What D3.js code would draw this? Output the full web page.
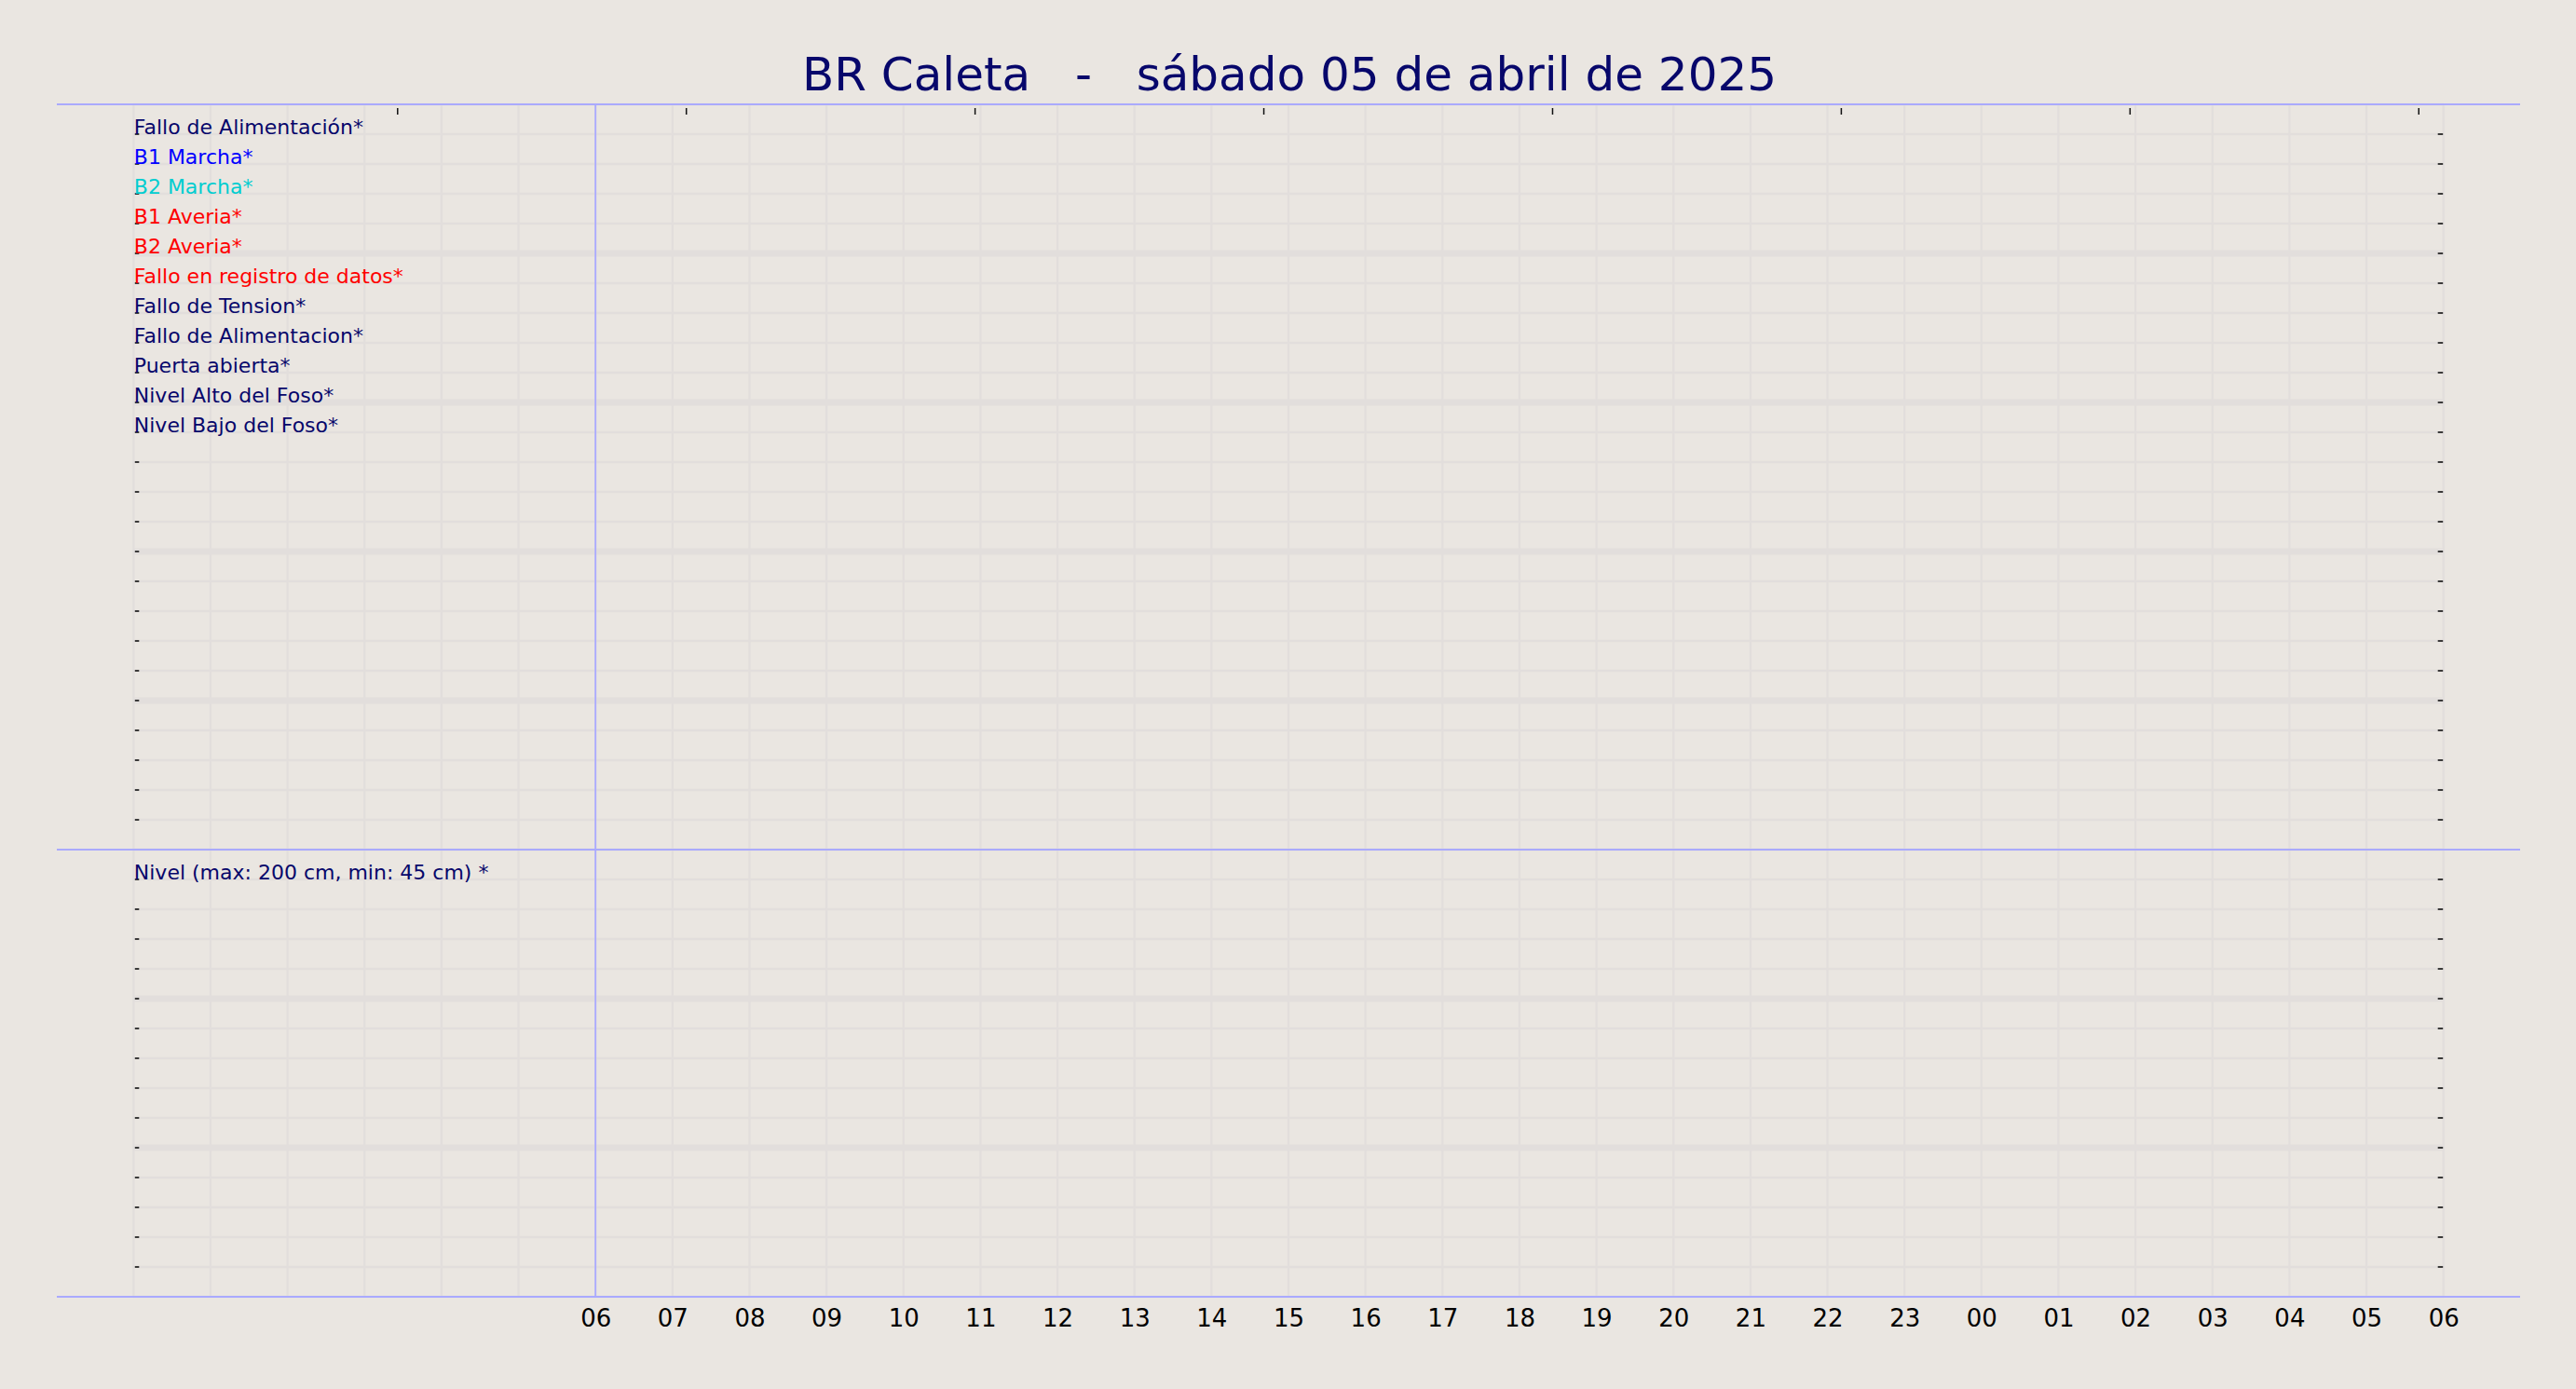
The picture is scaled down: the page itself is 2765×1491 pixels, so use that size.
<!DOCTYPE html>
<html>
<head>
<meta charset="utf-8">
<script src="https://cdn.jsdelivr.net/npm/d3@7"></script>
<style>
  body { margin: 0; background: #eae6e1; }
  svg text { font-family: "DejaVu Sans", sans-serif; }
</style>
</head>
<body>
<div id="chart"></div>
<script>
var title = "BR Caleta   -   sábado 05 de abril de 2025";

// signal rows of the upper panel
var signalLabels = ["Fallo de Alimentación*", "B1 Marcha*", "B2 Marcha*", "B1 Averia*",
                    "B2 Averia*", "Fallo en registro de datos*", "Fallo de Tension*",
                    "Fallo de Alimentacion*", "Puerta abierta*", "Nivel Alto del Foso*",
                    "Nivel Bajo del Foso*"];
var signalColors = ["#07076b", "#0000ff", "#00cdd0", "#ff0000", "#ff0000", "#ff0000",
                    "#07076b", "#07076b", "#07076b", "#07076b", "#07076b"];

// level panel
var levelLabels = ["Nivel (max: 200 cm, min: 45 cm) *"];
var levelColors = ["#07076b"];

var upperRows = 25;
var lowerRows = 15;

// hours from 00h of the day to 06h of the next
var hourDomain = [0, 30];
var hourValues = [6, 7, 8, 9, 10, 11, 12, 13, 14, 15, 16, 17, 18, 19, 20, 21, 22, 23,
                  24, 25, 26, 27, 28, 29, 30];
var hourLabels = ["06", "07", "08", "09", "10", "11", "12", "13", "14", "15", "16", "17",
                  "18", "19", "20", "21", "22", "23", "00", "01", "02", "03", "04", "05", "06"];
var topTickHours = [3.43, 7.18, 10.93, 14.68, 18.43, 22.18, 25.93, 29.68];
var startHour = 6;

var w = 2765, h = 1491;
var left = 143.3, right = 2622.7;
var top1 = 112, mid = 912, bottom = 1392;
var gridColor = "#e2dedc";
var lineColor = "#aaaaff";

var svg = d3.select("#chart")
  .append("svg")
  .attr("width", w)
  .attr("height", h);

var x = d3.scaleLinear().domain(hourDomain).range([left, right]);
var yTop = d3.scaleLinear().domain([0, upperRows]).range([top1, mid]);
var yLow = d3.scaleLinear().domain([0, lowerRows]).range([mid, bottom]);

// vertical grid, every hour
svg.append("g")
  .selectAll("line")
  .data(d3.range(hourDomain[0], hourDomain[1] + 1))
  .enter()
  .append("line")
  .attr("x1", function(d) { return x(d); })
  .attr("x2", function(d) { return x(d); })
  .attr("y1", top1)
  .attr("y2", bottom)
  .attr("stroke", gridColor)
  .attr("stroke-width", 2.3);

// horizontal grid, heavier every 5 rows
var drawRows = function(y, rows) {
  svg.append("g")
    .selectAll("line")
    .data(d3.range(0, rows + 1))
    .enter()
    .append("line")
    .attr("x1", left)
    .attr("x2", right)
    .attr("y1", function(d) { return y(d); })
    .attr("y2", function(d) { return y(d); })
    .attr("stroke", gridColor)
    .attr("stroke-width", function(d) { return (d % 5 == 0 && d > 0 && d < rows) ? 7 : 2.3; });

  var inner = d3.range(1, rows);

  svg.append("g")
    .selectAll("line")
    .data(inner)
    .enter()
    .append("line")
    .attr("x1", left + 1.5)
    .attr("x2", left + 6)
    .attr("y1", function(d) { return y(d); })
    .attr("y2", function(d) { return y(d); })
    .attr("stroke", "#111")
    .attr("stroke-width", 1.6);

  svg.append("g")
    .selectAll("line")
    .data(inner)
    .enter()
    .append("line")
    .attr("x1", right - 6)
    .attr("x2", right - 0.5)
    .attr("y1", function(d) { return y(d); })
    .attr("y2", function(d) { return y(d); })
    .attr("stroke", "#111")
    .attr("stroke-width", 1.6);
};

drawRows(yTop, upperRows);
drawRows(yLow, lowerRows);

// ticks hanging from the top edge
svg.append("g")
  .selectAll("line")
  .data(topTickHours)
  .enter()
  .append("line")
  .attr("x1", function(d) { return x(d); })
  .attr("x2", function(d) { return x(d); })
  .attr("y1", top1 + 4)
  .attr("y2", top1 + 11)
  .attr("stroke", "#111")
  .attr("stroke-width", 1.5);

// row labels
var drawLabels = function(y, labels, colors) {
  svg.append("g")
    .selectAll("text")
    .data(labels)
    .enter()
    .append("text")
    .text(function(d) { return d; })
    .attr("x", left + 0.5)
    .attr("y", function(d, i) { return y(i + 1) - 0.5; })
    .attr("font-size", "22px")
    .attr("fill", function(d, i) { return colors[i]; });
};

drawLabels(yTop, signalLabels, signalColors);
drawLabels(yLow, levelLabels, levelColors);

// panel separators and start-of-day line
svg.append("g")
  .selectAll("line")
  .data([top1, mid, bottom])
  .enter()
  .append("line")
  .attr("x1", 61)
  .attr("x2", 2705)
  .attr("y1", function(d) { return d; })
  .attr("y2", function(d) { return d; })
  .attr("stroke", lineColor)
  .attr("stroke-width", 2);

svg.append("line")
  .attr("x1", x(startHour))
  .attr("x2", x(startHour))
  .attr("y1", top1)
  .attr("y2", bottom)
  .attr("stroke", lineColor)
  .attr("stroke-width", 1.8);

// hour labels
var xAxis = svg.append("g")
  .attr("transform", "translate(0," + bottom + ")")
  .call(d3.axisBottom(x)
    .tickValues(hourValues)
    .tickFormat(function(d, i) { return hourLabels[i]; })
    .tickSize(0)
    .tickPadding(13.5));

xAxis.select(".domain").remove();
xAxis.selectAll("text")
  .attr("font-family", "DejaVu Sans, sans-serif")
  .attr("font-size", "26px")
  .attr("fill", "#000");

svg.append("text")
  .text(title)
  .attr("x", 1384)
  .attr("y", 97)
  .attr("text-anchor", "middle")
  .attr("font-size", "50px")
  .attr("fill", "#07076b")
  .style("white-space", "pre");
</script>
</body>
</html>
